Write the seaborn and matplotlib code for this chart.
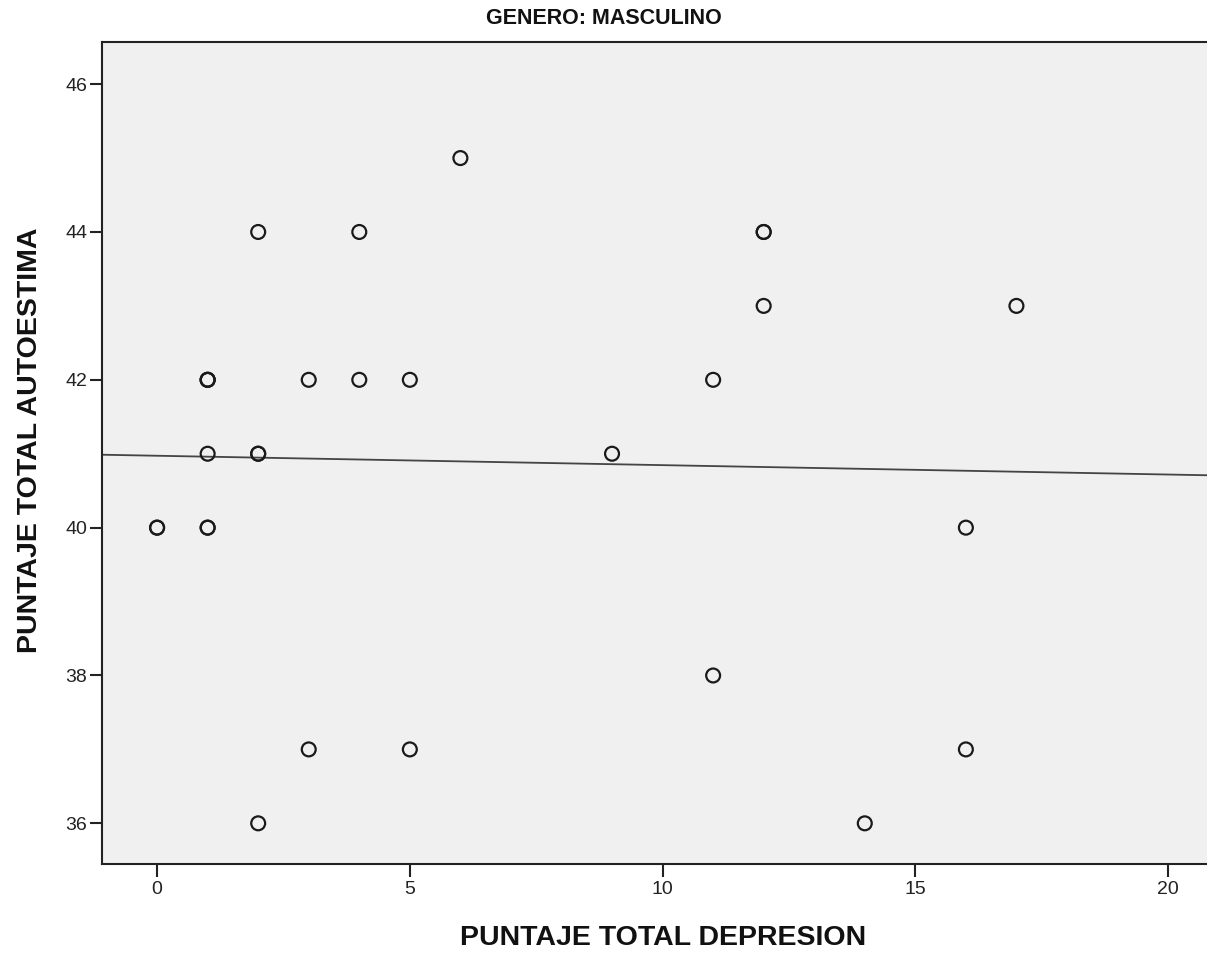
import numpy as np
import pandas as pd
import seaborn as sns
import matplotlib
matplotlib.use("Agg")
import matplotlib.pyplot as plt

# values (overplotted points repeated)
depresion = [0, 0, 1, 1, 1, 1, 1, 1, 2, 2, 2, 2, 3, 3, 4, 4, 5, 5, 6, 9, 11, 11, 12, 12, 12, 14, 16, 16, 17]
autoestima = [40, 40, 42, 42, 42, 41, 40, 40, 44, 41, 41, 36, 42, 37, 44, 42, 42, 37, 45, 41, 42, 38, 44, 44, 43, 36, 40, 37, 43]
x_ticks = [0, 5, 10, 15, 20]
y_ticks = [36, 38, 40, 42, 44, 46]

df = pd.DataFrame({"PUNTAJE TOTAL DEPRESION": depresion,
                   "PUNTAJE TOTAL AUTOESTIMA": autoestima})

sns.set_style("white")
plt.rcParams["font.family"] = ["Liberation Sans", "DejaVu Sans"]

fig = plt.figure(figsize=(12.07, 9.57), dpi=100)
ax = fig.add_axes([0.0845, 0.0972, 0.9155, 0.8589])
ax.set_facecolor("#f0f0f0")

sns.scatterplot(data=df, x="PUNTAJE TOTAL DEPRESION", y="PUNTAJE TOTAL AUTOESTIMA",
                ax=ax, marker="o", s=100, facecolor="none", edgecolor="#1a1a1a",
                linewidth=1.6, zorder=3)

# linear fit line spanning the whole axis
slope, intercept = np.polyfit(depresion, autoestima, 1)
ax.axline((0, intercept), slope=slope, color="#444444", lw=1.3, zorder=2)

ax.set_xlim(-1.09, 20.77)
ax.set_ylim(35.45, 46.57)
ax.set_xticks(x_ticks)
ax.set_yticks(y_ticks)

for side in ["left", "bottom", "top"]:
    ax.spines[side].set_visible(True)
    ax.spines[side].set_color("#222222")
    ax.spines[side].set_linewidth(1.5)
ax.spines["right"].set_visible(False)

ax.tick_params(axis="both", direction="out", length=9, width=1.5, color="#222222",
               labelsize=14, labelcolor="#222222")
ax.tick_params(axis="x", bottom=True, pad=3)
ax.tick_params(axis="y", left=True, pad=1.5)

ax.set_xlabel("PUNTAJE TOTAL DEPRESION", fontsize=20.5, fontweight="bold", color="#111111")
ax.set_ylabel("PUNTAJE TOTAL AUTOESTIMA", fontsize=20.5, fontweight="bold", color="#111111")
ax.xaxis.set_label_coords(0.508, -0.090)
ax.yaxis.set_label_coords(-0.065, 0.515)
ax.xaxis.label.set_va("center")
ax.yaxis.label.set_va("center")

fig.text(0.5, 0.981, "GENERO: MASCULINO", ha="center", va="center", fontsize=15.5,
         fontweight="bold", color="#111111",
         family=["Liberation Sans Narrow", "Liberation Sans", "DejaVu Sans"])

fig.savefig("out.png", dpi=100)
